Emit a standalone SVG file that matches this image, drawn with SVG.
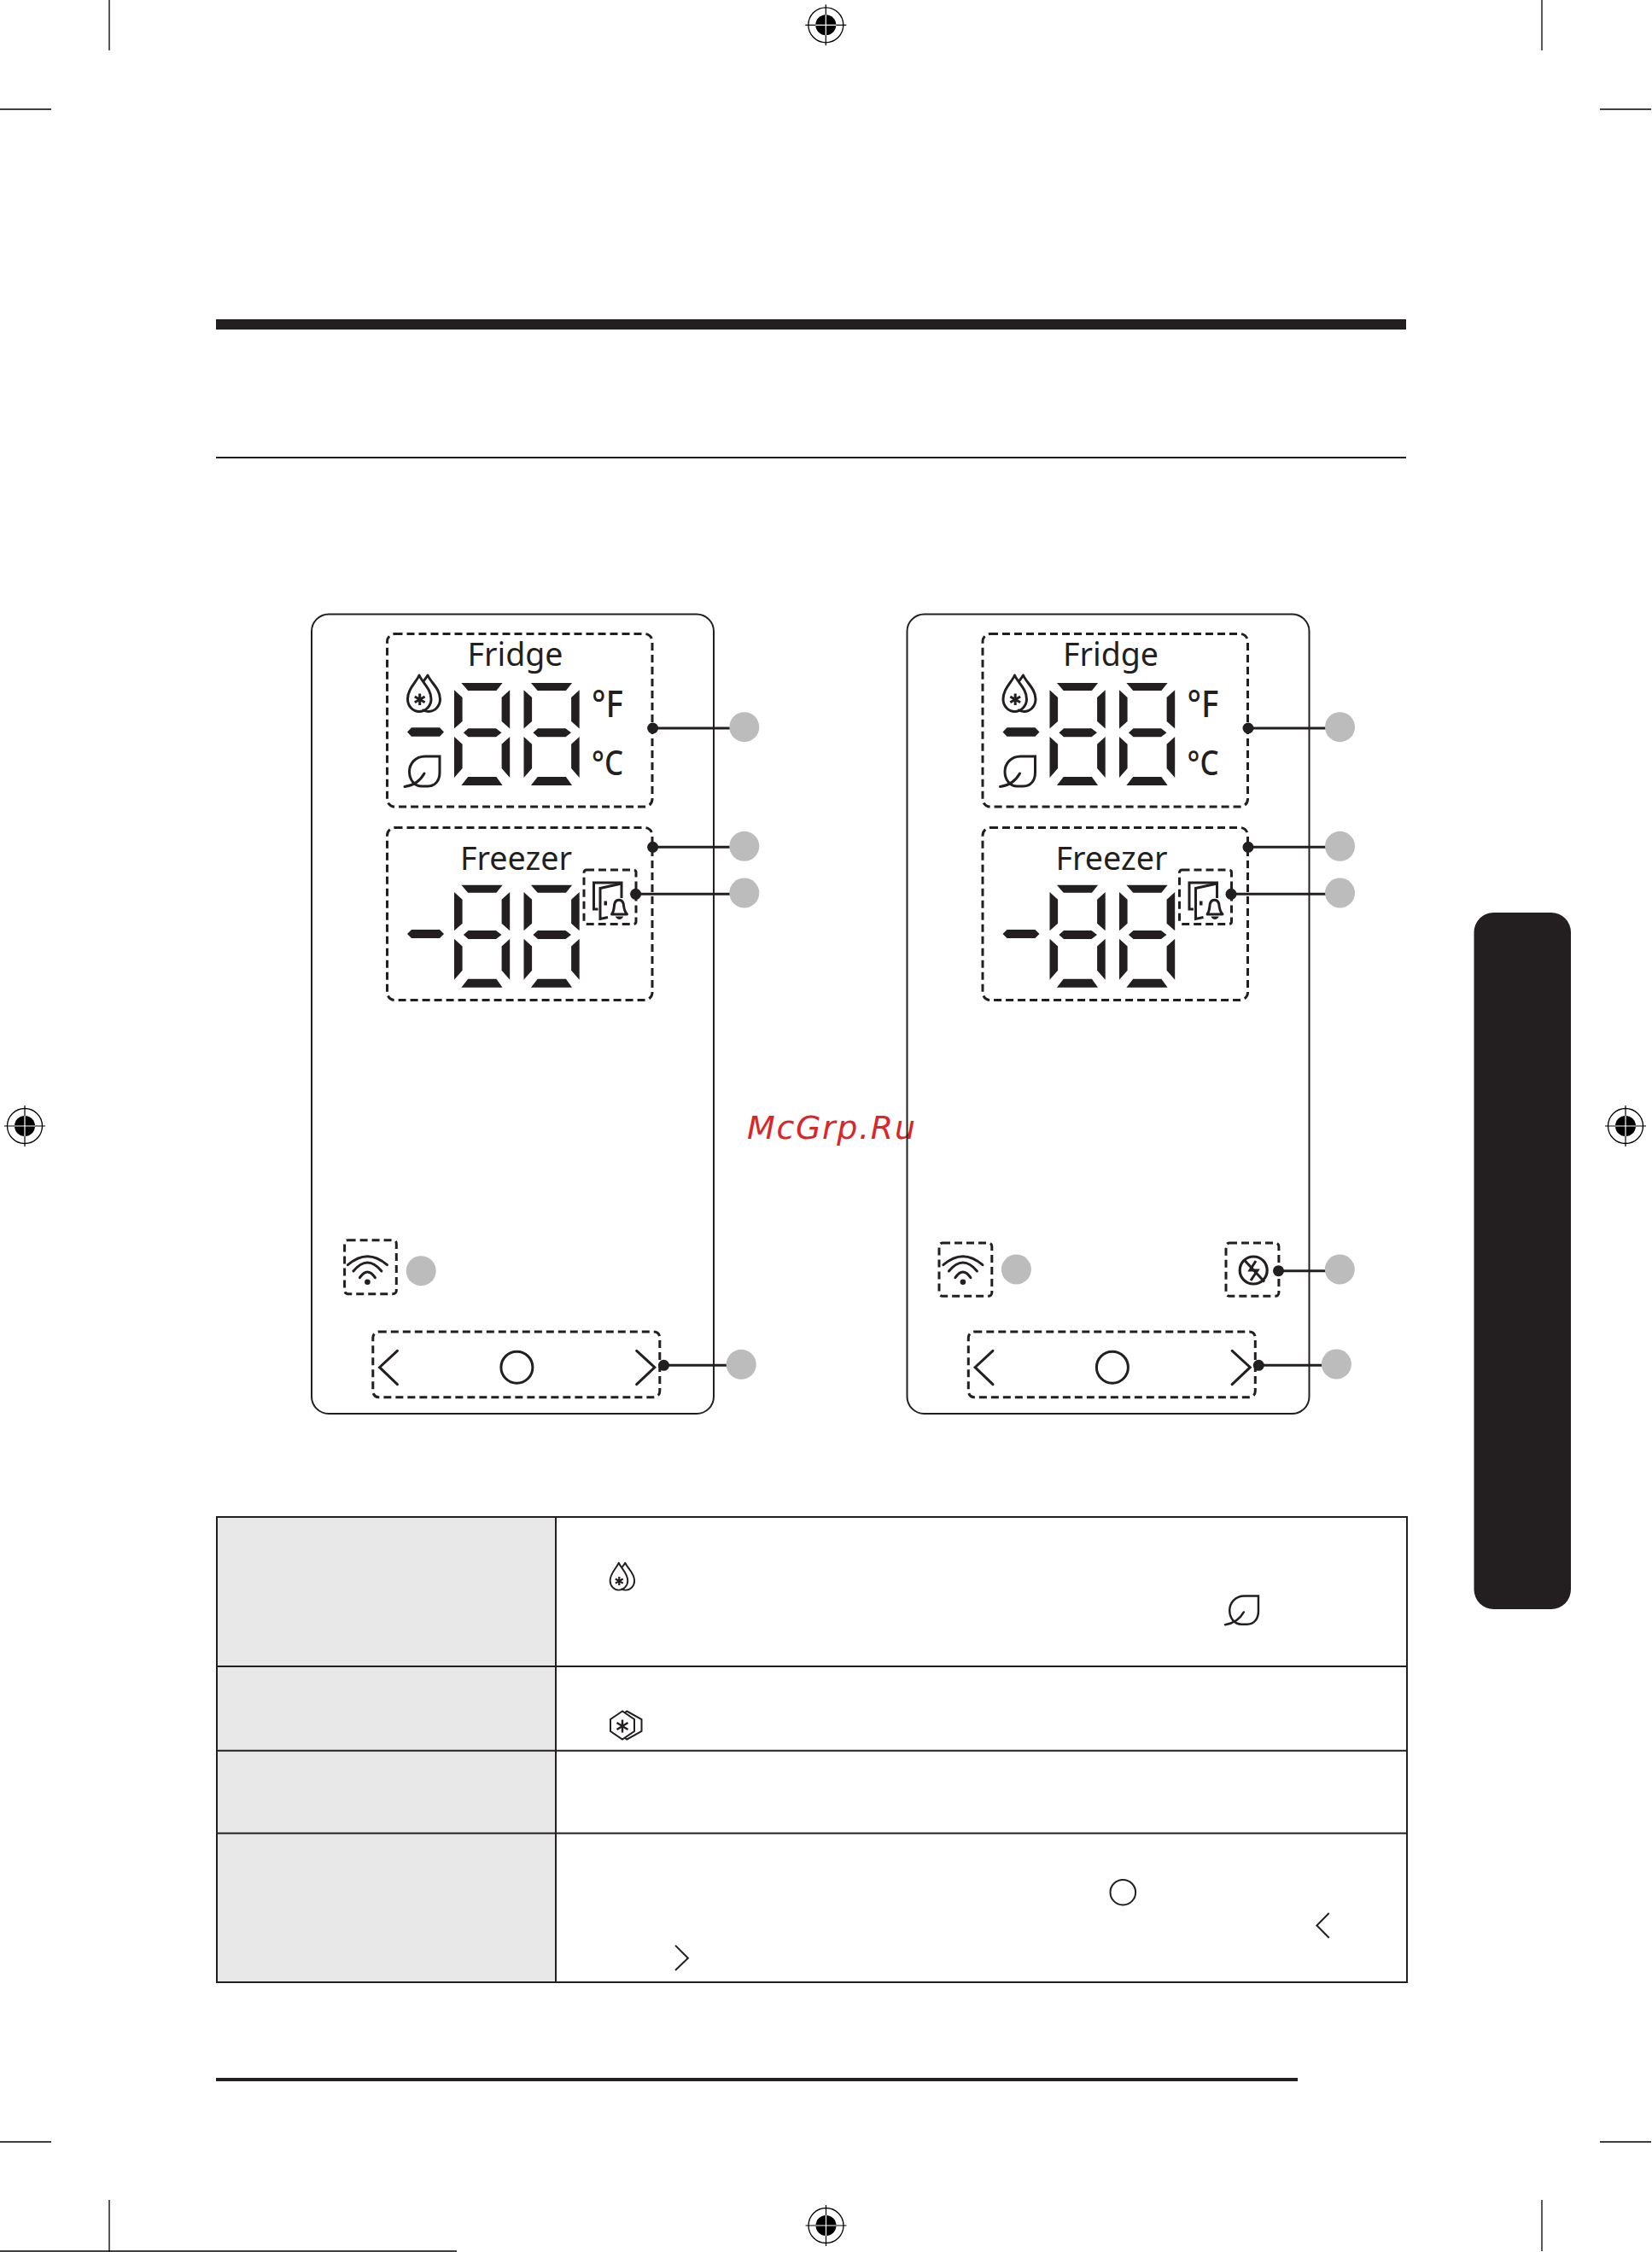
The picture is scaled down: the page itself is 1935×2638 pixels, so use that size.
<svg xmlns="http://www.w3.org/2000/svg" xmlns:xlink="http://www.w3.org/1999/xlink" width="1935" height="2638" viewBox="0 0 1935 2638">
<style>
.k{stroke:#231f20;fill:none}
.dash{stroke:#231f20;fill:none;stroke-width:3;stroke-dasharray:9 5}
.panel{stroke:#231f20;fill:none;stroke-width:2}
.badge{fill:#bcbcbc}
.dot{fill:#231f20}
.lead{stroke:#231f20;stroke-width:3;fill:none}
.seg{fill:#231f20}
.lcd{font-family:"Noto Sans","Open Sans",sans-serif;fill:#231f20}
.crop{stroke:#000;stroke-width:1.3;fill:none}
</style>
<defs>
<g id="digit" class="seg">
<polygon points="8.4,0 56.6,0 49.4,9 16.2,9"/>
<polygon points="0,8.3 9.6,17 9.6,45 0,53.500"/>
<polygon points="65.2,8.3 55.6,17 55.6,45 65.2,53.500"/>
<polygon points="10.9,58.3 16.5,53.3 49,53.3 55.5,58.3 49,63.3 16.5,63.3"/>
<polygon points="0,63 9.6,71.7 9.6,100 0,111"/>
<polygon points="65.2,63 55.6,71.7 55.6,100 65.2,111"/>
<polygon points="16.2,110 49.4,110 56.6,120 8.4,120"/>
</g>
<g id="reg">
<circle r="20.5" fill="#fff" stroke="#000" stroke-width="1.300"/>
<circle r="12" fill="#000"/>
<path d="M-24 0H24M0 -24V24" stroke="#000" stroke-width="1.200"/>
<path d="M-12 0H12M0 -12V12" stroke="#fff" stroke-width="1.200"/>
</g>
<g id="drop" fill="none" stroke="#231f20" stroke-linejoin="round">
<path d="M15 1C11 10 1.500 17 1.500 29C1.500 37 7.500 43.500 15 43.500C22.500 43.500 29 37 29 29C29 17 19 10 15 1Z"/>
<path d="M20 8C21.500 6 23.500 3.500 25 1C29 10 39.500 17 39.500 29C39.500 37 33.500 43.500 26 43.500C23 43.500 20.500 42.500 18.500 41.500"/>
<path d="M15.700 22.500V36M9.800 26L21.600 32.800M21.600 26L9.800 32.800" stroke-width="3"/>
</g>
<g id="leaf" fill="none" stroke="#231f20" stroke-linecap="round">
<path d="M41 1H24C12 1 5.500 10 5.500 19C5.500 29 12 36 20 36H27C36 36 41 29 41 20Z"/>
<path d="M23 21C18 30 11 35 0 36.500"/>
</g>
<g id="wifi" fill="none" stroke="#231f20" stroke-width="3" stroke-linecap="round">
<path d="M-23 -20Q0 -40 23 -20"/>
<path d="M-16.500 -12.700Q0 -32.700 16.500 -12.700"/>
<path d="M-9 -5Q0 -18.400 9 -5"/>
<circle r="3.300" fill="#231f20" stroke="none"/>
</g>
<g id="panel">
<rect class="panel" x="365" y="719.500" width="471" height="936.500" rx="20"/>
<rect class="dash" x="453.500" y="742.500" width="310.500" height="202.500" rx="9"/>
<rect class="dash" x="453.500" y="969.500" width="310.500" height="202" rx="9"/>
<rect class="dash" x="684" y="1019" width="61" height="63.500" rx="3"/>
<text class="lcd" x="603.500" y="780" font-size="38" text-anchor="middle" textLength="112" lengthAdjust="spacingAndGlyphs">Fridge</text>
<text class="lcd" x="604.500" y="1019" font-size="38" text-anchor="middle" textLength="131" lengthAdjust="spacingAndGlyphs">Freezer</text>
<text class="lcd" x="693" y="840" font-size="44" font-weight="500" textLength="37" lengthAdjust="spacingAndGlyphs">°F</text>
<text class="lcd" x="693" y="908" font-size="40" font-weight="500" textLength="37" lengthAdjust="spacingAndGlyphs">°C</text>
<use xlink:href="#drop" href="#drop" x="476" y="790" stroke-width="3"/>
<use xlink:href="#leaf" href="#leaf" x="474" y="885" stroke-width="3"/>
<polygon class="seg" points="477,857.500 482,852.300 515,852.300 520,857.500 515,862.700 482,862.700"/>
<polygon class="seg" points="477,1094 482,1089 515,1089 520,1094 515,1099 482,1099"/>
<use xlink:href="#digit" href="#digit" x="532" y="800"/>
<use xlink:href="#digit" href="#digit" x="613.500" y="800"/>
<use xlink:href="#digit" href="#digit" x="532" y="1036.700"/>
<use xlink:href="#digit" href="#digit" x="613.500" y="1036.700"/>
<g fill="none" stroke="#231f20" stroke-width="3">
<path d="M700.500 1065H695.500V1034H728V1052"/>
<path d="M728 1035L703 1040.500V1076.500L712 1074.500"/>
<path d="M716.500 1071C720 1066 719 1061 720 1058C721.500 1053 728.500 1053 730 1058C731 1061 730 1066 734.500 1071Z" stroke-linejoin="round"/>
</g>
<path class="dot" d="M721 1073.500H730C729 1078 722 1078 721 1073.500Z"/>
<rect class="dot" x="707.500" y="1055.500" width="3.500" height="5"/>
<path class="k" stroke-width="3" stroke-linecap="round" d="M465.400 1582.300L444.600 1601.700L465.400 1621.700M745.700 1582.300L766.800 1601.700L745.700 1621.700"/>
<circle class="k" stroke-width="3" cx="605.400" cy="1601.700" r="18.500"/>
<rect class="dash" x="436.800" y="1560" width="336" height="76.700" rx="7"/>
</g>
</defs>
<text id="watermark" x="875" y="1334" font-family="DejaVu Sans, sans-serif" font-style="italic" font-size="38" textLength="197" fill="#dc2528">McGrp.Ru</text>
<g id="crop-marks" class="crop">
<path d="M128 0V59M1806 0V59M0 128H60M1874 128H1934M0 2509H60M1874 2509H1934M128 2577V2638M1806 2577V2637"/>
<path d="M0 2637H535" stroke-width="1.600"/>
</g>
<g id="registration">
<use xlink:href="#reg" href="#reg" x="967.300" y="29.300"/>
<use xlink:href="#reg" href="#reg" x="967.500" y="2607"/>
<use xlink:href="#reg" href="#reg" x="29" y="1319"/>
<use xlink:href="#reg" href="#reg" x="1904" y="1319"/>
</g>
<g id="rules">
<rect x="253" y="374" width="1394" height="12" fill="#231f20"/>
<rect x="253" y="535" width="1394" height="2" fill="#231f20"/>
<rect x="253" y="2434" width="1267" height="4" fill="#231f20"/>
<rect x="1726.500" y="1069" width="113.500" height="816" rx="23" fill="#231f20"/>
</g>
<g id="panel-left">
<use xlink:href="#panel" href="#panel"/>
<rect class="dash" x="403.600" y="1452.700" width="60.700" height="63" rx="4"/>
<use xlink:href="#wifi" href="#wifi" x="430.400" y="1501.700"/>
</g>
<g id="panel-right">
<use xlink:href="#panel" href="#panel" x="697.500"/>
<rect class="dash" x="1100" y="1456" width="61.800" height="62.300" rx="4"/>
<use xlink:href="#wifi" href="#wifi" x="1127.900" y="1501.700"/>
<rect class="dash" x="1436" y="1456" width="61.900" height="62.300" rx="4"/>
<g fill="none" stroke="#231f20">
<circle cx="1468.200" cy="1488" r="16" stroke-width="3.200"/>
<path d="M1457 1475.500L1481 1501.500" stroke-width="3"/>
<path d="M1471 1477L1464 1488H1473L1465 1500" stroke-width="3"/>
</g>
</g>
<g id="connectors">
<path class="lead" d="M764.600 853H860M764.600 992.300H860M744.600 1047.300H860M777.500 1599.300H860"/>
<path class="lead" d="M1462 853H1558M1462 992.300H1558M1442 1047.300H1558M1497.500 1488.700H1558M1474.300 1599.300H1555"/>
<g class="dot">
<circle cx="764.600" cy="853" r="6.500"/><circle cx="764.600" cy="992.300" r="6.500"/><circle cx="744.600" cy="1047.300" r="6.500"/><circle cx="777.500" cy="1599.300" r="6.500"/>
<circle cx="1462" cy="853" r="6.500"/><circle cx="1462" cy="992.300" r="6.500"/><circle cx="1442" cy="1047.300" r="6.500"/><circle cx="1497.500" cy="1488.700" r="6.500"/><circle cx="1474.300" cy="1599.300" r="6.500"/>
</g>
</g>
<g id="badges" class="badge">
<circle cx="871.800" cy="851.700" r="17.500"/><circle cx="871.800" cy="991.300" r="17.500"/><circle cx="871.800" cy="1046" r="17.500"/><circle cx="493.200" cy="1488.700" r="17.500"/><circle cx="868.200" cy="1598.300" r="17.500"/>
<circle cx="1569.500" cy="851.700" r="17.500"/><circle cx="1569.500" cy="991.300" r="17.500"/><circle cx="1569.500" cy="1046" r="17.500"/><circle cx="1190.400" cy="1487" r="17.500"/><circle cx="1569.300" cy="1487" r="17.500"/><circle cx="1565.400" cy="1598" r="17.500"/>
</g>
<g id="table">
<rect x="254" y="1777" width="397" height="545" fill="#e8e8e9"/>
<path d="M254 1777H1648V2322H254ZM651 1777V2322M254 1952H1648M254 2050.700H1648M254 2147.400H1648" fill="none" stroke="#231f20" stroke-width="2"/>
<g transform="translate(713.500 1830) scale(.75)"><use xlink:href="#drop" href="#drop" stroke-width="2.600"/></g>
<g transform="translate(1435 1868.500) scale(.95)"><use xlink:href="#leaf" href="#leaf" stroke-width="2.600"/></g>
<g fill="none" stroke="#231f20" stroke-width="2">
<path d="M729 2004.500L715 2014V2028L729 2037.500L743 2028V2014Z"/>
<path d="M732 2006L734.300 2004.500L751.500 2014V2028L734.300 2037.500L732 2036"/>
<path d="M729 2014.500V2029.500M722.500 2018L735.500 2026M735.500 2018L722.500 2026" stroke-width="2.400"/>
<circle cx="1315.300" cy="2216.700" r="14.800"/>
<path d="M1556.700 2241L1542.400 2255.500L1556.700 2270M791 2278.900L805.900 2293.700L791 2308"/>
</g>
</g>
</svg>
